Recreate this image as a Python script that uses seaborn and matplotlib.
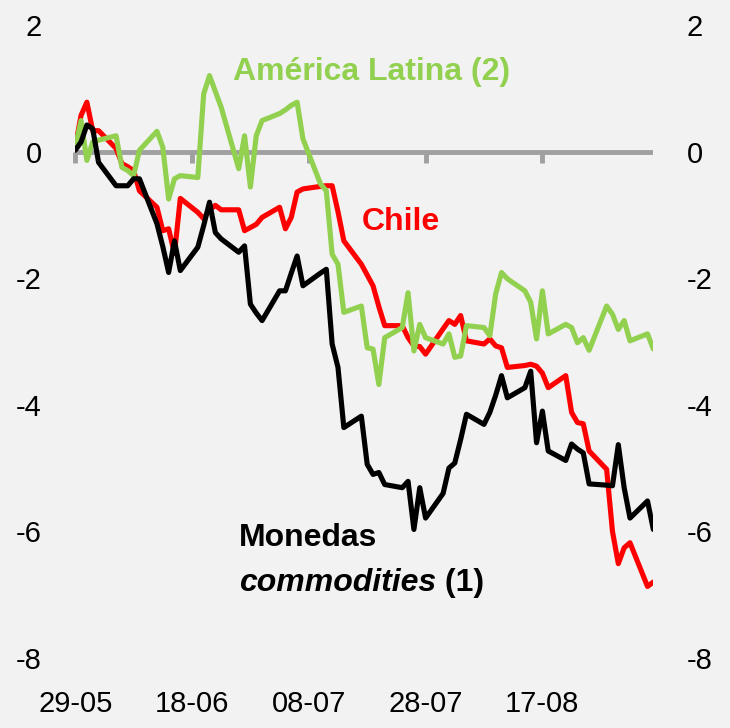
import pandas as pd
import numpy as np
import seaborn as sns
import matplotlib.pyplot as plt
import matplotlib.dates as mdates

# datos (dias habiles 29-05 a 05-09)
fechas = pd.bdate_range('2023-05-29', '2023-09-05')

chile = [0.07, 0.57, 0.78, 0.33, 0.33,
         0.05, -0.19, -0.24, -0.30, -0.62,
         -0.88, -1.25, -1.22, -1.61, -0.74,
         -0.96, -1.06, -0.92, -0.85, -0.92,
         -0.92, -1.25, -1.20, -1.15, -1.04,
         -0.88, -1.22, -1.04, -0.64, -0.59,
         -0.55, -0.54, -0.54, -0.95, -1.41,
         -1.78, -1.95, -2.12, -2.45, -2.75,
         -2.75, -2.94, -3.07, -3.08, -3.20,
         -2.80, -2.67, -2.73, -2.59, -2.99,
         -3.04, -2.96, -3.07, -3.10, -3.41,
         -3.38, -3.36, -3.39, -3.50, -3.73,
         -3.54, -4.12, -4.28, -4.30, -4.73,
         -5.02, -6.00, -6.51, -6.26, -6.18,
         -6.87, -6.80]

latam = [0.07, 0.49, -0.14, 0.15, 0.18,
         0.25, -0.25, -0.30, -0.38, 0.02,
         0.32, 0.07, -0.75, -0.43, -0.38,
         -0.41, 0.91, 1.20, 0.95, 0.70,
         -0.27, 0.25, -0.56, 0.25, 0.49,
         0.60, 0.66, 0.73, 0.78, 0.20,
         -0.51, -0.62, -1.62, -1.78, -2.54,
         -2.44, -3.10, -3.12, -3.68, -2.94,
         -2.78, -2.23, -3.15, -2.73, -2.94,
         -3.04, -2.88, -3.25, -3.23, -2.75,
         -2.78, -2.91, -2.25, -1.91, -2.01,
         -2.20, -2.38, -2.96, -2.20, -2.88,
         -2.73, -2.78, -3.02, -2.94, -3.14,
         -2.44, -2.57, -2.81, -2.67, -2.99,
         -2.88, -3.12]

commodities = [0.02, 0.15, 0.42, 0.36, -0.17,
               -0.54, -0.54, -0.54, -0.43, -0.43,
               -1.14, -1.50, -1.91, -1.41, -1.88,
               -1.51, -1.17, -0.80, -1.28, -1.38,
               -1.59, -1.49, -2.41, -2.55, -2.67,
               -2.20, -2.20, -1.92, -1.65, -2.12,
               -1.92, -1.86, -3.04, -3.41, -4.36,
               -4.18, -4.94, -5.10, -5.07, -5.26,
               -5.31, -5.21, -5.97, -5.31, -5.79,
               -5.40, -5.00, -4.92, -4.55, -4.15,
               -4.31, -4.12, -3.85, -3.54, -3.89,
               -3.73, -3.47, -4.60, -4.10, -4.73,
               -4.88, -4.62, -4.70, -4.76, -5.25,
               -5.27, -5.28, -4.63, -5.31, -5.79,
               -5.52, -5.97]

ticks_x = ['2023-05-29', '2023-06-18', '2023-07-08', '2023-07-28', '2023-08-17']

df = pd.DataFrame({'fecha': fechas, 'Chile': chile,
                   'América Latina': latam, 'Monedas commodities': commodities})
df = df.melt(id_vars='fecha', var_name='serie', value_name='valor')

colores = {'Chile': '#FF0000', 'América Latina': '#92D050', 'Monedas commodities': '#000000'}

sns.set_style('white')
plt.rcParams['font.family'] = ['Liberation Sans', 'DejaVu Sans']
plt.rcParams['axes.unicode_minus'] = False

fig = plt.figure(figsize=(7.3, 7.28), dpi=100, facecolor='#F2F2F2')
ax = fig.add_axes([0.103, 0.0962, 0.792, 0.8695])
ax.set_facecolor('#F2F2F2')

# eje en cero (gris, con marcas hacia abajo) dibujado antes que las series
ax.axhline(0, color='#A0A0A0', linewidth=3.5, zorder=1)
sec = ax.secondary_xaxis(0.8)
sec.set_xticks(pd.to_datetime(ticks_x))
sec.set_xticklabels([])
sec.tick_params(axis='x', direction='in', length=8, width=3.5, color='#A0A0A0',
                labelbottom=False, labeltop=False)
for k in sec.spines:
    sec.spines[k].set_visible(False)

sns.lineplot(data=df, x='fecha', y='valor', hue='serie', palette=colores,
             hue_order=['Chile', 'América Latina', 'Monedas commodities'],
             linewidth=3.7, legend=False, ax=ax, zorder=3)

ax.set_ylim(-8, 2)
ax.set_yticks([-8, -6, -4, -2, 0, 2])
ax.set_xlim(fechas[0], fechas[-1])
ax.set_xticks(pd.to_datetime(ticks_x))
ax.xaxis.set_major_formatter(mdates.DateFormatter('%d-%m'))
ax.set_xlabel('')
ax.set_ylabel('')
for s in ax.spines.values():
    s.set_visible(False)
ax.tick_params(axis='y', length=0, labelsize=21, labelcolor='black',
               labelleft=True, labelright=True, pad=24)
ax.tick_params(axis='x', length=0, labelsize=21, labelcolor='black', pad=23)

fb = {'family': ['Liberation Sans', 'DejaVu Sans'], 'weight': 'bold', 'size': 23}
ax.text(pd.Timestamp('2023-06-25'), 1.25, 'América Latina (2)', color='#92D050', va='center', ha='left', **fb)
ax.text(pd.Timestamp('2023-07-17'), -1.12, 'Chile', color='#FF0000', va='center', ha='left', **fb)
ax.text(pd.Timestamp('2023-06-26'), -6.1, 'Monedas', color='black', va='center', ha='left', **fb)
t = ax.text(pd.Timestamp('2023-06-26'), -6.82, 'commodities', color='black', va='center', ha='left',
            style='italic', **fb)
ax.annotate(' (1)', xy=(1, 0.5), xycoords=t, va='center', ha='left', color='black', **fb)

fig.savefig('out.png', dpi=100, facecolor=fig.get_facecolor())
